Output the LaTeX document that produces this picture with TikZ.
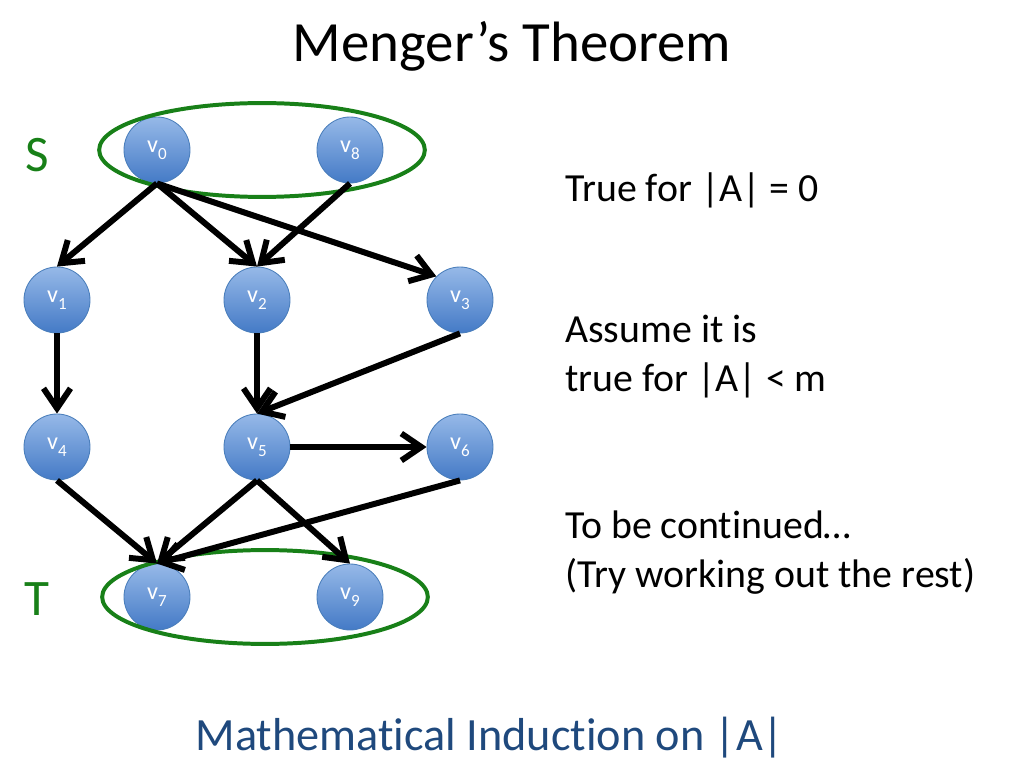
\documentclass[tikz,border=0pt]{standalone}
\usepackage{fontspec}
\setmainfont[Ligatures=NoCommon]{Carlito}
\usetikzlibrary{arrows.meta,shapes.geometric}
\definecolor{vtxtop}{RGB}{150,185,232}
\definecolor{vtxbot}{RGB}{68,122,198}
\definecolor{vtxrim}{RGB}{74,126,187}
\definecolor{setgreen}{RGB}{24,128,24}
\definecolor{notenavy}{RGB}{31,73,125}
\newcommand{\vsub}[1]{v\raisebox{-5pt}{\fontsize{12}{12}\selectfont #1}}
\tikzset{
  vertex/.style={circle, draw=vtxrim, line width=0.6pt, top color=vtxtop, bottom color=vtxbot,
    minimum size=46.4pt, inner sep=0pt, text=white, font=\fontsize{17}{17}\selectfont},
  dirarrow/.style={line width=4.2pt, -{Straight Barb[length=14pt,width=19pt]}},
  setring/.style={ellipse, draw=setgreen, line width=2.8pt, minimum width=229pt, minimum height=66pt},
  setlabel/.style={text=setgreen, font=\fontsize{36}{36}\selectfont, anchor=base},
  note/.style={anchor=base west, align=left, inner sep=0pt, font=\fontsize{28}{34}\selectfont}
}
\begin{document}
\begin{tikzpicture}[x=0.703125pt, y=-0.703125pt]
    \useasboundingbox (0,0) rectangle (1024,768);

    \node[anchor=base, font=\fontsize{40}{40}\selectfont] (title) at (512,62) {Menger’s Theorem};

    % the vertices
    \node[vertex] (v0) at (157,150) {\vsub{0}};
    \node[vertex] (v8) at (350,150) {\vsub{8}};
    \node[vertex] (v1) at (57,300) {\vsub{1}};
    \node[vertex] (v2) at (257,300) {\vsub{2}};
    \node[vertex] (v3) at (460,300) {\vsub{3}};
    \node[vertex] (v4) at (57,447) {\vsub{4}};
    \node[vertex] (v5) at (257,447) {\vsub{5}};
    \node[vertex] (v6) at (460,447) {\vsub{6}};
    \node[vertex] (v7) at (157,597) {\vsub{7}};
    \node[vertex] (v9) at (350,597) {\vsub{9}};

    % the sets S and T
    \node[setring] (Sring) at (262,150) {};
    \node[setring] (Tring) at (265,597) {};
    \node[setlabel] (Slabel) at (37,172) {S};
    \node[setlabel] (Tlabel) at (37,615) {T};

    % edges
    \draw[dirarrow] (v0.south) -- (v1.north);
    \draw[dirarrow] (v0.south) -- (v2.north);
    \draw[dirarrow] (v0.south) -- (v3.north west);
    \draw[dirarrow] (v8.south) -- (v2.north);
    \draw[dirarrow] (v1.south) -- (v4.north);
    \draw[dirarrow] (v2.south) -- (v5.north);
    \draw[dirarrow] (v3.south) -- (v5.north);
    \draw[dirarrow] (v5.east) -- (v6.west);
    \draw[dirarrow] (v4.south) -- (v7.north);
    \draw[dirarrow] (v5.south) -- (v7.north);
    \draw[dirarrow] (v6.south) -- (v7.north);
    \draw[dirarrow] (v5.south) -- (v9.north);

    % the steps of the proof
    \node[note] (base) at (565,202) {True for |A| = 0};
    \node[note] (hyp) at (565,391) {Assume it is\\true for |A| < m};
    \node[note] (rest) at (565,587) {To be continued…\\(Try working out the rest)};

    \node[anchor=base, text=notenavy, font=\fontsize{32.5}{33}\selectfont] (method) at (490,750) {Mathematical Induction on |A|};
\end{tikzpicture}
\end{document}
